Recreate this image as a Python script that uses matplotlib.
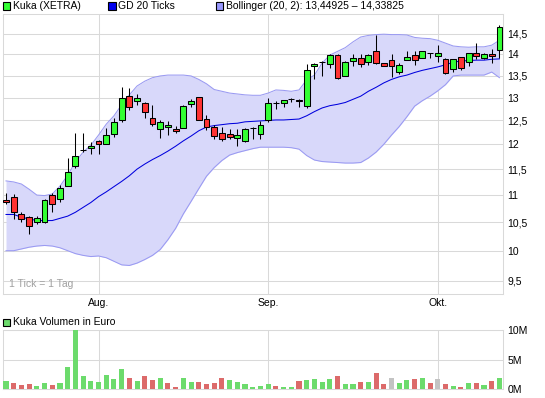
import numpy as np
import matplotlib
matplotlib.use("Agg")
import matplotlib.pyplot as plt
from matplotlib.patches import Rectangle
from matplotlib.ticker import FixedLocator, NullLocator, FixedFormatter

# ---------------- data ----------------
opens = [10.91, 10.96, 10.65, 10.60, 10.50, 10.50, 11.00, 10.93, 11.18, 11.56,
         11.88, 11.92, 12.07, 12.00, 12.21, 12.50, 13.03, 12.93, 12.88, 12.55,
         12.32, 12.36, 12.32, 12.34, 12.86, 13.01, 12.53, 12.36, 12.23, 12.21,
         12.13, 12.06, 12.33, 12.21, 12.51, 12.87, 12.88, 12.97, 12.94, 12.82,
         13.71, 13.81, 13.77, 13.99, 13.50, 13.83, 13.91, 13.82, 14.07, 13.79,
         13.87, 13.59, 13.87, 13.99, 13.91, 14.03, 13.96, 13.89, 13.65, 13.93,
         13.82, 14.03, 13.91, 14.00, 14.10]
highs = [11.04, 11.02, 10.69, 10.61, 10.62, 10.92, 11.03, 11.20, 11.73, 12.23,
         12.23, 12.04, 12.08, 12.34, 12.55, 13.24, 13.21, 13.08, 12.89, 12.83,
         12.50, 12.48, 12.39, 12.83, 12.97, 13.02, 12.62, 12.41, 12.37, 12.32,
         12.32, 12.34, 12.37, 12.49, 13.00, 12.92, 12.94, 13.00, 12.97, 13.77,
         13.79, 13.84, 14.00, 14.00, 13.83, 14.01, 14.00, 14.00, 14.48, 13.80,
         14.00, 13.79, 14.09, 14.07, 14.07, 14.04, 14.23, 13.90, 13.89, 13.94,
         14.03, 14.27, 14.03, 14.12, 14.72]
lows = [10.83, 10.55, 10.50, 10.29, 10.47, 10.49, 10.69, 10.87, 11.17, 11.52,
        11.84, 11.81, 11.80, 12.00, 12.14, 12.46, 12.72, 12.83, 12.56, 12.39,
        12.13, 12.20, 12.23, 12.33, 12.78, 12.51, 12.30, 12.11, 12.06, 12.11,
        11.97, 12.04, 12.11, 12.11, 12.46, 12.75, 12.80, 12.90, 12.80, 12.77,
        13.43, 13.48, 13.67, 13.42, 13.49, 13.71, 13.70, 13.74, 13.78, 13.71,
        13.46, 13.53, 13.86, 13.74, 13.90, 13.91, 13.81, 13.53, 13.59, 13.62,
        13.71, 13.89, 13.89, 13.79, 13.91]
closes = [10.87, 10.68, 10.55, 10.43, 10.57, 10.91, 10.83, 11.13, 11.45, 11.77,
          11.88, 11.97, 12.00, 12.20, 12.46, 13.00, 12.80, 12.99, 12.68, 12.42,
          12.46, 12.41, 12.27, 12.82, 12.93, 12.51, 12.36, 12.17, 12.11, 12.15,
          12.20, 12.32, 12.33, 12.40, 12.88, 12.87, 12.94, 12.97, 12.92, 13.62,
          13.78, 13.81, 13.99, 13.44, 13.82, 13.91, 13.78, 13.99, 13.79, 13.73,
          13.73, 13.74, 13.93, 13.87, 14.07, 14.03, 14.03, 13.56, 13.89, 13.68,
          14.03, 13.95, 14.00, 13.96, 14.68]
ma20 = [10.64, 10.64, 10.59, 10.56, 10.53, 10.53, 10.53, 10.57, 10.61, 10.68,
        10.77, 10.86, 10.97, 11.06, 11.16, 11.26, 11.37, 11.50, 11.60, 11.69,
        11.77, 11.86, 11.96, 12.07, 12.17, 12.28, 12.36, 12.39, 12.41, 12.43,
        12.44, 12.47, 12.48, 12.49, 12.50, 12.51, 12.51, 12.52, 12.53, 12.60,
        12.69, 12.77, 12.82, 12.85, 12.89, 12.96, 13.03, 13.14, 13.23, 13.33,
        13.41, 13.47, 13.51, 13.57, 13.62, 13.66, 13.70, 13.75, 13.81, 13.84,
        13.85, 13.86, 13.86, 13.88, 13.89]
boll_upper = [11.27, 11.25, 11.21, 11.11, 11.00, 10.99, 11.02, 11.17, 11.38, 11.64,
              11.84, 11.98, 12.19, 12.42, 12.60, 12.84, 13.06, 13.26, 13.37, 13.45,
              13.49, 13.51, 13.51, 13.51, 13.49, 13.41, 13.31, 13.18, 13.14, 13.10,
              13.08, 13.06, 13.05, 13.05, 13.10, 13.17, 13.16, 13.14, 13.17, 13.40,
              13.51, 13.79, 13.98, 14.07, 14.16, 14.30, 14.42, 14.46, 14.48, 14.49,
              14.48, 14.48, 14.47, 14.41, 14.39, 14.38, 14.34, 14.27, 14.20, 14.18,
              14.17, 14.18, 14.18, 14.22, 14.34]
boll_lower = [10.00, 10.00, 10.03, 10.06, 10.08, 10.09, 10.08, 10.05, 10.00, 9.95,
              9.92, 9.90, 9.91, 9.88, 9.82, 9.76, 9.75, 9.79, 9.85, 9.92,
              10.02, 10.19, 10.39, 10.65, 10.88, 11.12, 11.36, 11.53, 11.67, 11.78,
              11.83, 11.87, 11.91, 11.94, 11.94, 11.94, 11.94, 11.93, 11.90, 11.77,
              11.68, 11.65, 11.64, 11.63, 11.62, 11.62, 11.63, 11.72, 11.84, 12.00,
              12.19, 12.37, 12.58, 12.81, 12.93, 13.03, 13.15, 13.29, 13.49, 13.51,
              13.51, 13.51, 13.51, 13.58, 13.45]
volume_m = [1.40, 1.07, 0.73, 0.90, 0.56, 1.07, 0.73, 1.07, 3.76, 10.0,
            2.25, 1.40, 1.24, 2.42, 1.74, 3.43, 1.91, 1.40, 2.25, 1.57,
            1.91, 1.07, 0.39, 1.91, 1.24, 1.24, 0.90, 1.07, 1.91, 1.57,
            1.24, 0.90, 0.39, 0.56, 0.90, 0.56, 0.39, 0.39, 1.40, 1.57,
            1.74, 1.24, 1.74, 2.25, 0.90, 0.90, 1.24, 1.24, 2.75, 0.90,
            1.91, 1.07, 1.57, 1.74, 1.91, 1.07, 1.74, 0.90, 0.56, 0.39,
            1.07, 1.07, 0.73, 1.40, 1.90]
month_labels = ["Aug.", "Sep.", "Okt."]
month_index = [12, 34, 56]          # first trading day of each month
price_ticks = [9.5, 10, 10.5, 11, 11.5, 12, 12.5, 13, 13.5, 14, 14.5]
price_tick_labels = ["9,5", "10", "10,5", "11", "11,5", "12", "12,5", "13", "13,5", "14", "14,5"]
vol_ticks_m = [0, 5, 10]
vol_tick_labels = ["0M", "5M", "10M"]

# ---------------- styling ----------------
GREEN = "#33ff33"
RED = "#ff3333"
VGREEN = "#6cdb6c"
VRED = "#dc6a6a"
VGRAY = "#c3c3c3"
GRID = "#d9d9d9"
BAND_FILL = "#d8d8fa"
BAND_EDGE = "#9a9af2"
MA_COL = "#0000dd"
FS = 7.5
LW = 0.75

plt.rcParams["font.family"] = ["Liberation Sans", "DejaVu Sans"]

W, H = 545, 398
fig = plt.figure(figsize=(W / 100, H / 100), dpi=100)
fig.patch.set_facecolor("white")


def rect(l, t, r, b):
    return [l / W, 1 - b / H, (r - l) / W, (b - t) / H]


ax = fig.add_axes(rect(3, 14, 503, 294))
axv = fig.add_axes(rect(3, 330, 503, 389.3))

n = len(closes)
x = np.arange(n)
o = np.array(opens); c = np.array(closes)
h = np.array(highs); l = np.array(lows)

# ---- price panel ----
ax.set_yscale("log")
ax.set_ylim(9.285, 15.0)
ax.set_xlim(-0.39, 64.46)

ax.fill_between(x, boll_lower, boll_upper, color=BAND_FILL, lw=0, zorder=1)
ax.plot(x, boll_upper, color=BAND_EDGE, lw=LW, zorder=2)
ax.plot(x, boll_lower, color=BAND_EDGE, lw=LW, zorder=2)
ax.plot(x, ma20, color=MA_COL, lw=LW, zorder=3)

ax.vlines(x, l, h, color="black", lw=LW, zorder=4)
bw = 0.76
for i in range(n):
    lo_b = min(o[i], c[i]); hi_b = max(o[i], c[i])
    col = GREEN if c[i] > o[i] else (RED if c[i] < o[i] else "black")
    ax.bar(x[i], hi_b - lo_b, bottom=lo_b, width=bw, color=col,
           edgecolor="black", linewidth=LW, zorder=5)

ax.yaxis.set_major_locator(FixedLocator(price_ticks))
ax.yaxis.set_major_formatter(FixedFormatter(price_tick_labels))
ax.yaxis.set_minor_locator(NullLocator())
ax.yaxis.tick_right()
ax.set_xticks(month_index)
ax.set_xticklabels(month_labels)
ax.tick_params(axis="both", length=0, labelsize=FS, colors="black")
ax.tick_params(axis="y", pad=3)
ax.tick_params(axis="x", pad=3)
ax.grid(True, color=GRID, lw=LW, zorder=0)
ax.set_axisbelow(True)
for s in ax.spines.values():
    s.set_color(GRID)
    s.set_linewidth(LW)
ax.text(0.012, 0.018, "1 Tick = 1 Tag", transform=ax.transAxes, fontsize=FS,
        color="#a0a0a0", ha="left", va="bottom")

# ---- volume panel ----
vol = np.array(volume_m)
diff = np.diff(c, prepend=c[0] - 0.01)
vcols = [VGREEN if d > 1e-9 else (VRED if d < -1e-9 else VGRAY) for d in diff]
axv.bar(x, vol, width=0.66, color=vcols, lw=0, zorder=3)
axv.set_xlim(-0.39, 64.46)
axv.set_ylim(0, 10)
axv.yaxis.tick_right()
axv.set_yticks(vol_ticks_m)
axv.set_yticklabels(vol_tick_labels)
axv.set_xticks(month_index)
axv.set_xticklabels([])
axv.tick_params(axis="both", length=0, labelsize=FS, colors="black", pad=3)
axv.grid(True, color=GRID, lw=LW, zorder=0)
axv.set_axisbelow(True)
for s in axv.spines.values():
    s.set_color(GRID)
    s.set_linewidth(LW)

# ---- legends ----
def legend_item(px, py, color, label):
    fig.add_artist(Rectangle((px / W, 1 - (py + 7.3) / H), 7.3 / W, 7.3 / H,
                             transform=fig.transFigure, facecolor=color,
                             edgecolor="black", lw=0.8))
    fig.text((px + 10.0) / W, 1 - (py + 3.9) / H, label, fontsize=FS,
             ha="left", va="center", color="black")

legend_item(2.7, 2.3, GREEN, "Kuka (XETRA)")
legend_item(108.3, 2.3, "#0000ee", "GD 20 Ticks")
legend_item(216, 2.3, "#9999ff", "Bollinger (20, 2): 13,44925 \u2013 14,33825")
legend_item(2.7, 318.5, VGREEN, "Kuka Volumen in Euro")

fig.savefig("out.png", dpi=100, facecolor="white")
